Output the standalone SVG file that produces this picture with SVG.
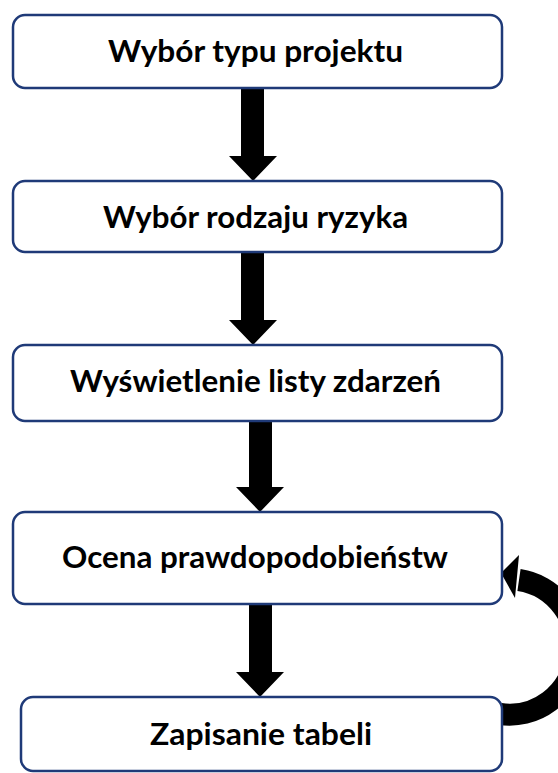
<svg xmlns="http://www.w3.org/2000/svg" width="558" height="773" viewBox="0 0 558 773">
<style>
.box{fill:#fff;stroke:#1f3a78;stroke-width:2.5}
.t{font-family:Lato,"Liberation Sans",sans-serif;font-weight:bold;font-size:30px;fill:#000}
.arr{fill:#000}
</style>
<rect width="558" height="773" fill="#fff"/>
<g id="connectors">
<polygon class="arr" points="241,88 264,88 264,156 277,156 253,181 229,156 241,156"/>
<polygon class="arr" points="241,252 264,252 264,320 277,320 253,345 229,320 241,320"/>
<polygon class="arr" points="249,421 272,421 272,487 284,487 260,512 236,487 249,487"/>
<polygon class="arr" points="249,604 272,604 272,672 284,672 260,697 236,672 249,672"/>
<path d="M 500 714 A 66 67 0 0 0 519 580" fill="none" stroke="#000" stroke-width="22"/>
<polygon class="arr" points="501,573 519,555 515,598"/>
</g>
<g id="n1"><rect class="box" x="13" y="15" width="489" height="73" rx="12"/><text class="t" x="108" y="62" textLength="295" lengthAdjust="spacingAndGlyphs">Wybór typu projektu</text></g>
<g id="n2"><rect class="box" x="13" y="181" width="489" height="71" rx="12"/><text class="t" x="103" y="228" textLength="305" lengthAdjust="spacingAndGlyphs">Wybór rodzaju ryzyka</text></g>
<g id="n3"><rect class="box" x="13" y="345" width="489" height="76" rx="12"/><text class="t" x="70" y="392" textLength="371" lengthAdjust="spacingAndGlyphs">Wyświetlenie listy zdarzeń</text></g>
<g id="n4"><rect class="box" x="13" y="512" width="489" height="92" rx="12"/><text class="t" x="62" y="568" textLength="386" lengthAdjust="spacingAndGlyphs">Ocena prawdopodobieństw</text></g>
<g id="n5"><rect class="box" x="21" y="697" width="481" height="74" rx="12"/><text class="t" x="150" y="745" textLength="222" lengthAdjust="spacingAndGlyphs">Zapisanie tabeli</text></g>
</svg>
